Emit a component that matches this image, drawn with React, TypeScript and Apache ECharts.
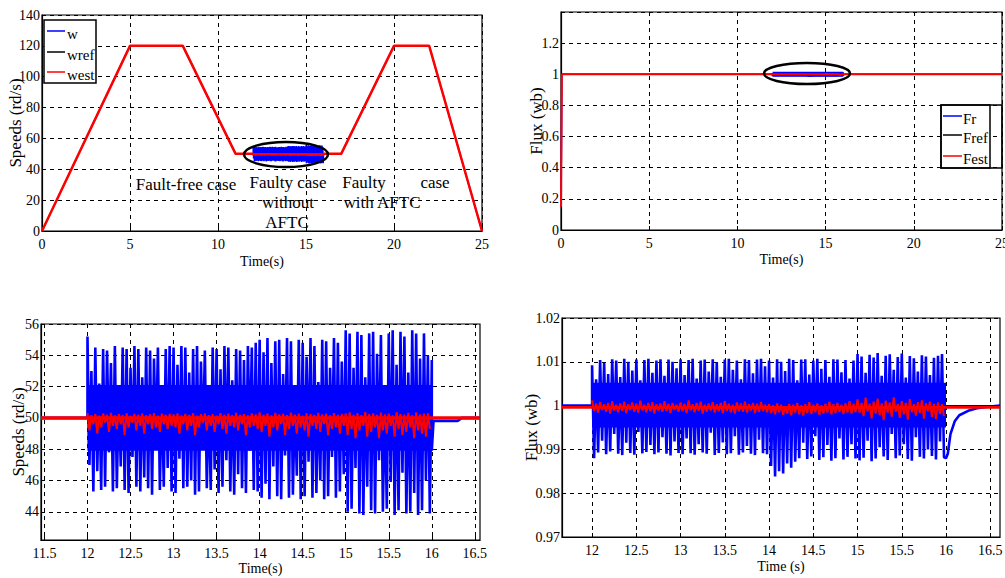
import React, { useEffect, useRef } from "react";
import * as echarts from "echarts";

// ---------------- data ----------------
const profileTime = [0, 5, 8, 11, 17, 20, 22, 25];
const profileSpeed = [0, 120, 120, 50, 50, 120, 120, 0];
const plateauSpeed = 50;
const faultStart = 12;
const faultEnd = 16;

// rotor speed w : spike tips during the fault (12 s .. 16 s)
const wHigh = [
  55.2, 53.0, 54.5, 52.2, 54.4, 54.3, 53.5, 54.6, 51.8, 54.5, 54.4, 53.2, 54.6, 54.4, 52.6, 54.5, 54.3, 53.8, 54.5, 52.0, 54.4, 54.6,
  54.5, 53.4, 54.6, 54.5, 52.9, 54.4, 54.6, 53.6, 54.3, 51.6, 54.5, 54.4, 53.1, 54.6, 54.5, 52.4, 54.4, 54.3, 53.7, 54.6, 54.5, 54.8,
  55.0, 54.2, 55.1, 53.5, 54.9, 55.0, 52.8, 55.1, 54.9, 51.2, 55.0, 54.8, 53.9, 55.1, 54.6, 52.3, 55.0, 54.9, 53.2, 55.1, 54.8, 53.6,
  55.6, 55.4, 53.2, 55.5, 55.3, 52.6, 55.4, 55.5, 54.1, 55.3, 51.5, 55.4, 55.6, 53.4, 55.5, 55.2, 52.9, 55.6, 55.4, 53.8, 55.4, 54.0,
];
const wLow = [
  47.0, 45.3, 46.6, 45.4, 45.6, 47.8, 45.3, 45.5, 46.9, 45.4, 45.2, 47.5, 45.6, 45.3, 46.2, 45.5, 45.1, 48.0, 45.4, 45.6, 46.8, 45.3,
  45.2, 47.4, 45.5, 45.6, 46.0, 45.1, 45.3, 48.2, 45.5, 45.4, 46.7, 45.2, 45.6, 47.3, 45.3, 45.1, 46.4, 45.5, 45.2, 47.9, 45.4, 45.3,
  44.9, 45.8, 44.8, 46.9, 45.0, 44.8, 47.6, 44.9, 45.1, 46.3, 44.8, 45.0, 47.2, 44.9, 45.2, 46.0, 44.8, 45.0, 47.5, 44.9, 45.3, 46.4,
  44.0, 44.2, 46.8, 43.9, 43.8, 45.6, 44.1, 43.9, 47.3, 44.0, 44.2, 45.9, 43.8, 44.1, 46.5, 43.9, 44.0, 45.2, 43.8, 44.1, 46.0, 43.9,
];
const wBand = [47.9, 52.1];
const wRecoveryTime = [16, 16, 16.02, 16.3, 16.35, 16.56];
const wRecoveryValue = [53.7, 47.9, 49.8, 49.8, 50, 50];

// estimated speed west during the fault
const westHigh = [
  50.30, 50.18, 50.25, 50.15, 50.28, 50.20, 50.32, 50.16, 50.24, 50.19, 50.30, 50.14, 50.26, 50.21, 50.29, 50.17, 50.23, 50.31, 50.15, 50.27, 50.20, 50.25,
  50.22, 50.29, 50.16, 50.26, 50.19, 50.31, 50.15, 50.24, 50.28, 50.18, 50.25, 50.14, 50.30, 50.21, 50.27, 50.17, 50.33, 50.20, 50.24, 50.16, 50.29, 50.22,
  50.35, 50.20, 50.28, 50.16, 50.32, 50.22, 50.26, 50.18, 50.34, 50.21, 50.27, 50.15, 50.30, 50.24, 50.19, 50.33, 50.22, 50.27, 50.17, 50.31, 50.20, 50.25,
  50.28, 50.36, 50.20, 50.30, 50.17, 50.38, 50.24, 50.29, 50.19, 50.34, 50.22, 50.27, 50.16, 50.37, 50.25, 50.21, 50.32, 50.18, 50.35, 50.23, 50.28, 50.30,
];
const westLow = [
  49.2, 49.6, 49.0, 49.4, 49.7, 49.1, 49.5, 49.3, 49.6, 48.9, 49.4, 49.7, 49.2, 49.5, 49.0, 49.6, 49.3, 49.4, 49.1, 49.6, 49.3, 49.5,
  49.4, 49.0, 49.6, 49.2, 49.5, 48.9, 49.4, 49.7, 49.2, 49.5, 49.1, 49.6, 49.3, 49.0, 49.5, 49.4, 49.2, 49.6, 48.9, 49.4, 49.5, 49.3,
  49.1, 49.5, 48.8, 49.4, 49.2, 49.6, 48.9, 49.3, 49.5, 49.0, 49.4, 49.2, 48.8, 49.5, 49.3, 49.1, 49.6, 48.9, 49.3, 49.4, 49.0, 49.5,
  48.9, 49.3, 48.7, 49.2, 49.5, 48.8, 49.1, 49.4, 48.7, 49.2, 49.0, 49.5, 48.8, 49.3, 48.9, 49.1, 49.4, 48.7, 49.2, 49.0, 48.8, 49.3,
];

// flux
const fluxRef = 1;
const fluxStartTime = [0, 0.05];
const fluxStartValue = [0.15, 1];
const festBase = 0.9996;
const frHigh = [
  1.0092, 1.0060, 1.0104, 1.0098, 1.0072, 1.0106, 1.0103, 1.0065, 1.0107, 1.0100, 1.0080, 1.0105, 1.0058, 1.0104, 1.0107, 1.0075, 1.0103, 1.0106, 1.0068, 1.0105, 1.0100, 1.0085,
  1.0106, 1.0070, 1.0104, 1.0107, 1.0062, 1.0103, 1.0105, 1.0078, 1.0106, 1.0099, 1.0066, 1.0105, 1.0107, 1.0082, 1.0103, 1.0060, 1.0106, 1.0104, 1.0074, 1.0105, 1.0107, 1.0090,
  1.0103, 1.0064, 1.0106, 1.0100, 1.0079, 1.0107, 1.0104, 1.0058, 1.0105, 1.0106, 1.0071, 1.0103, 1.0107, 1.0084, 1.0104, 1.0066, 1.0106, 1.0105, 1.0076, 1.0104, 1.0062, 1.0103,
  1.0118, 1.0112, 1.0075, 1.0116, 1.0110, 1.0120, 1.0068, 1.0114, 1.0117, 1.0082, 1.0111, 1.0119, 1.0064, 1.0113, 1.0108, 1.0078, 1.0115, 1.0112, 1.0070, 1.0109, 1.0114, 1.0118,
];
const frLow = [
  0.9880, 0.9893, 0.9920, 0.9889, 0.9895, 0.9935, 0.9890, 0.9887, 0.9915, 0.9892, 0.9888, 0.9940, 0.9891, 0.9894, 0.9910, 0.9889, 0.9893, 0.9928, 0.9890, 0.9886, 0.9918, 0.9892,
  0.9889, 0.9925, 0.9891, 0.9888, 0.9912, 0.9893, 0.9890, 0.9938, 0.9887, 0.9892, 0.9916, 0.9889, 0.9891, 0.9930, 0.9888, 0.9893, 0.9908, 0.9890, 0.9887, 0.9922, 0.9891, 0.9889,
  0.9862, 0.9838, 0.9850, 0.9845, 0.9868, 0.9858, 0.9872, 0.9880, 0.9915, 0.9878, 0.9884, 0.9930, 0.9876, 0.9882, 0.9910, 0.9874, 0.9880, 0.9925, 0.9877, 0.9883, 0.9912, 0.9879,
  0.9875, 0.9881, 0.9920, 0.9873, 0.9879, 0.9905, 0.9884, 0.9876, 0.9935, 0.9880, 0.9886, 0.9912, 0.9878, 0.9874, 0.9928, 0.9883, 0.9879, 0.9900, 0.9885, 0.9877, 0.9918, 0.9882,
];
const frBand = [0.9950, 1.0052];
const frRecoveryTime = [16, 16.02, 16.05, 16.1, 16.15, 16.25, 16.35, 16.5, 16.61];
const frRecoveryValue = [0.988, 0.989, 0.9935, 0.9965, 0.9978, 0.9988, 0.9994, 0.9998, 1.0];
const festHigh = [
  1.0012, 1.0004, 1.0008, 1.0003, 1.0006, 1.0010, 1.0002, 1.0005, 1.0009, 1.0003, 1.0007, 1.0004, 1.0011, 1.0002, 1.0006, 1.0008, 1.0003, 1.0005, 1.0010, 1.0004, 1.0006, 1.0002,
  1.0007, 1.0004, 1.0012, 1.0003, 1.0006, 1.0009, 1.0002, 1.0005, 1.0008, 1.0003, 1.0006, 1.0010, 1.0004, 1.0002, 1.0007, 1.0005, 1.0009, 1.0003, 1.0006, 1.0004, 1.0008, 1.0002,
  1.0003, 1.0001, 1.0005, 1.0002, 0.9999, 1.0004, 1.0002, 1.0006, 1.0001, 1.0003, 1.0008, 1.0002, 1.0005, 1.0001, 1.0004, 1.0009, 1.0003, 1.0006, 1.0002, 1.0005, 1.0010, 1.0004,
  1.0014, 1.0006, 1.0018, 1.0004, 1.0009, 1.0016, 1.0005, 1.0011, 1.0007, 1.0019, 1.0004, 1.0010, 1.0006, 1.0015, 1.0003, 1.0008, 1.0012, 1.0005, 1.0009, 1.0004, 1.0007, 1.0003,
];
const festLow = [
  0.9988, 0.9984, 0.9990, 0.9986, 0.9982, 0.9989, 0.9985, 0.9988, 0.9983, 0.9990, 0.9986, 0.9984, 0.9989, 0.9985, 0.9987, 0.9982, 0.9989, 0.9986, 0.9988, 0.9983, 0.9990, 0.9986,
  0.9987, 0.9983, 0.9989, 0.9985, 0.9988, 0.9982, 0.9986, 0.9989, 0.9984, 0.9987, 0.9983, 0.9988, 0.9985, 0.9982, 0.9987, 0.9986, 0.9984, 0.9989, 0.9983, 0.9986, 0.9988, 0.9985,
  0.9983, 0.9980, 0.9985, 0.9979, 0.9982, 0.9978, 0.9984, 0.9980, 0.9977, 0.9983, 0.9981, 0.9985, 0.9979, 0.9982, 0.9984, 0.9980, 0.9983, 0.9986, 0.9981, 0.9984, 0.9982, 0.9985,
  0.9984, 0.9976, 0.9987, 0.9971, 0.9982, 0.9978, 0.9967, 0.9984, 0.9975, 0.9986, 0.9972, 0.9980, 0.9968, 0.9985, 0.9977, 0.9983, 0.9970, 0.9987, 0.9974, 0.9969, 0.9981, 0.9976,
];

// axis ticks
const speedZoomTimeTicks = [11.5, 12, 12.5, 13, 13.5, 14, 14.5, 15, 15.5, 16, 16.5];
const fluxZoomTimeTicks = [12, 12.5, 13, 13.5, 14, 14.5, 15, 15.5, 16, 16.5];
const speedZoomTicks = [44, 46, 48, 50, 52, 54, 56];

// --------------- helpers ---------------
const FONT = "Liberation Serif";

function zigzag(hi: number[], lo: number[]) {
  const n = Math.min(hi.length, lo.length);
  const dt = (faultEnd - faultStart) / n;
  const pts: number[][] = [];
  for (let i = 0; i < n; i++) {
    pts.push([faultStart + i * dt, hi[i]]);
    pts.push([faultStart + (i + 0.5) * dt, lo[i]]);
  }
  return pts;
}
const pairs = (t: number[], v: number[]) => t.map((x, i) => [x, v[i]]);

const gridLine = { show: true, lineStyle: { color: "#000", type: [4, 4] as any, width: 1 } };
const axisLineStyle = { show: true, onZero: false, lineStyle: { color: "#000", width: 1.2 } };
const richLabel = { t: { fontFamily: FONT, fontSize: 14, color: "#000" } };
const wrap = (s: string) => (s === "" ? "" : `{t|${s}}`);

function xAxisCfg(gridIndex: number, min: number, max: number, extra: any, name: string, nameGap: number) {
  return {
    type: "value",
    gridIndex,
    min,
    max,
    axisLine: axisLineStyle,
    axisTick: { show: true, inside: true, length: 4, lineStyle: { color: "#000" }, ...(extra.tick || {}) },
    axisLabel: {
      color: "#000",
      fontFamily: FONT,
      fontSize: 14,
      margin: 6,
      formatter: (v: number) => wrap(String(v)),
      rich: richLabel,
      ...(extra.label || {}),
    },
    splitLine: gridLine,
    interval: extra.interval,
    name,
    nameLocation: "middle",
    nameGap,
    nameMoveOverlap: false,
    nameTextStyle: { color: "#000", fontFamily: FONT, fontSize: 14 },
  };
}
function yAxisCfg(gridIndex: number, min: number, max: number, extra: any, name: string, nameGap: number) {
  return {
    type: "value",
    gridIndex,
    min,
    max,
    axisLine: axisLineStyle,
    axisTick: { show: true, inside: true, length: 4, lineStyle: { color: "#000" }, ...(extra.tick || {}) },
    axisLabel: {
      color: "#000",
      fontFamily: FONT,
      fontSize: 14,
      margin: 2,
      formatter: (v: number) => wrap(String(v)),
      rich: richLabel,
      ...(extra.label || {}),
    },
    splitLine: gridLine,
    interval: extra.interval,
    name,
    nameLocation: "middle",
    nameGap,
    nameRotate: 90,
    nameMoveOverlap: false,
    nameTextStyle: { color: "#000", fontFamily: FONT, fontSize: 17 },
  };
}
function line(xi: number, data: number[][], color: string, width: number, z = 2, extra: any = {}) {
  return {
    type: "line",
    xAxisIndex: xi,
    yAxisIndex: xi,
    data,
    symbol: "none",
    showSymbol: false,
    silent: true,
    z,
    lineStyle: { color, width },
    ...extra,
  };
}
function legendBox(x: number, y: number, w: number, h: number, names: string[], ys: number[], lx1: number, lx2: number, tx: number) {
  const colors = ["#0000ff", "#000000", "#ff0000"];
  const els: any[] = [
    { type: "rect", shape: { x, y, width: w, height: h }, style: { fill: "#fff", stroke: "#000", lineWidth: 1.5 }, z: 100 },
  ];
  names.forEach((n, i) => {
    els.push({ type: "line", shape: { x1: lx1, y1: ys[i], x2: lx2, y2: ys[i] }, style: { stroke: colors[i], lineWidth: 1.5 }, z: 101 });
    els.push({ type: "text", x: tx, y: ys[i] + 3, style: { text: n, fill: "#000", font: `15px ${FONT}`, align: "left", verticalAlign: "middle" }, z: 101 });
  });
  return els;
}
function label(text: string, x: number, y: number) {
  return { type: "text", x, y, style: { text, fill: "#000", font: `17px ${FONT}`, align: "center", verticalAlign: "middle" }, z: 50 };
}

export default function App() {
  const ref = useRef<HTMLDivElement>(null);
  useEffect(() => {
    if (!ref.current) return;
    const chart = echarts.init(ref.current, undefined, { renderer: "svg" });

    const profilePts = pairs(profileTime, profileSpeed);
    const before = profilePts.filter((p) => p[0] <= 11);
    const after = profilePts.filter((p) => p[0] >= 17);
    const wTop = [...before, [faultStart, plateauSpeed], ...zigzag(wHigh, wLow), [faultEnd, plateauSpeed], ...after];
    const westTop = [...before, [faultStart, plateauSpeed], ...zigzag(westHigh, westLow), [faultEnd, plateauSpeed], ...after];

    const fluxStart = pairs(fluxStartTime, fluxStartValue);
    const frTopBase = [...fluxStart, [25, fluxRef]];
    const frTopFault = zigzag(frHigh, frLow);
    const frTopEnvelope = [[faultStart, fluxRef], [faultEnd, fluxRef]];
    const festTop = [...fluxStart, [faultStart, fluxRef], ...zigzag(festHigh, festLow), [faultEnd, fluxRef], [25, fluxRef]];

    const wZoom = [[11.46, plateauSpeed], [faultStart, plateauSpeed], ...zigzag(wHigh, wLow), ...pairs(wRecoveryTime, wRecoveryValue)];
    const frZoom = [[11.66, fluxRef], [faultStart, fluxRef], ...zigzag(frHigh, frLow), ...pairs(frRecoveryTime, frRecoveryValue)];

    const option: any = {
      animation: false,
      textStyle: { fontFamily: FONT },
      grid: [
        { left: 42, top: 15, width: 440, height: 216, show: true, borderColor: "#000", borderWidth: 1.2, outerBoundsMode: "none" },
        { left: 561, top: 12, width: 441, height: 218, show: true, borderColor: "#000", borderWidth: 1.2, outerBoundsMode: "none" },
        { left: 41, top: 324, width: 439, height: 216, show: true, borderColor: "#000", borderWidth: 1.2, outerBoundsMode: "none" },
        { left: 562, top: 318, width: 438, height: 219, show: true, borderColor: "#000", borderWidth: 1.2, outerBoundsMode: "none" },
      ],
      xAxis: [
        xAxisCfg(0, 0, 25, { interval: 5 }, "Time(s)", 23),
        xAxisCfg(1, 0, 25, { interval: 5 }, "Time(s)", 22),
        xAxisCfg(2, 11.46, 16.56, { label: { customValues: speedZoomTimeTicks }, tick: { customValues: speedZoomTimeTicks } }, "Time(s)", 21),
        xAxisCfg(3, 11.66, 16.61, { label: { customValues: fluxZoomTimeTicks }, tick: { customValues: fluxZoomTimeTicks } }, "Time (s)", 22),
      ],
      yAxis: [
        yAxisCfg(0, 0, 140, { interval: 20 }, "Speeds (rd/s)", 18),
        yAxisCfg(1, 0, 1.4, { interval: 0.2, label: { formatter: (v: number) => (v > 1.3 ? "" : wrap(String(+v.toFixed(1)))) } }, "Flux (wb)", 16),
        yAxisCfg(2, 42.2, 56, { label: { customValues: speedZoomTicks }, tick: { customValues: speedZoomTicks } }, "Speeds (rd/s)", 14),
        yAxisCfg(3, 0.97, 1.02, { interval: 0.01, label: { formatter: (v: number) => wrap(String(+v.toFixed(2))) } }, "Flux (wb)", 22),
      ],
      series: [
        // top-left
        line(0, wTop, "#0000ff", 1.5, 2),
        line(0, profilePts, "#000000", 1, 3),
        line(0, westTop, "#ff0000", 2.5, 4),
        // top-right
        line(1, frTopBase, "#0000ff", 1.5, 2),
        line(1, frTopFault, "#0000ff", 3, 2),
        line(1, frTopEnvelope, "#0000ff", 5, 2),
        line(1, [[0, fluxRef], [25, fluxRef]], "#000000", 1, 3),
        line(1, festTop, "#ff0000", 2, 4),
        // bottom-left
        line(2, wZoom, "#0000ff", 2.6, 2, {
          markArea: {
            silent: true,
            z: 1,
            itemStyle: { color: "#0000ff", opacity: 1 },
            data: [[{ coord: [faultStart, wBand[0]] }, { coord: [faultEnd, wBand[1]] }]],
          },
        }),
        line(2, [[11.46, plateauSpeed], [16.56, plateauSpeed]], "#000000", 1, 3),
        line(2, [[11.46, plateauSpeed], [16.56, plateauSpeed]], "#ff0000", 3.5, 4),
        line(2, zigzag(westHigh, westLow), "#ff0000", 2, 5),
        // bottom-right
        line(3, frZoom, "#0000ff", 2.6, 2, {
          markArea: {
            silent: true,
            z: 1,
            itemStyle: { color: "#0000ff", opacity: 1 },
            data: [[{ coord: [faultStart, frBand[0]] }, { coord: [faultEnd, frBand[1]] }]],
          },
        }),
        line(3, [[11.66, fluxRef], [16.61, fluxRef]], "#000000", 1.3, 3),
        line(3, [[11.66, festBase], [16.61, festBase]], "#ff0000", 3, 4),
        line(3, zigzag(festHigh, festLow), "#ff0000", 2, 5),
      ],
      graphic: [
        ...legendBox(44, 20, 52, 63, ["w", "wref", "west"], [31, 52, 72], 47, 65, 67),
        ...legendBox(941, 105, 49, 63, ["Fr", "Fref", "Fest"], [116, 135, 156], 943, 962, 963),
        { type: "rect", shape: { x: 941, y: 105, width: 61, height: 63 }, style: { fill: "none", stroke: "#000", lineWidth: 1.5 }, z: 100 },
        { type: "ellipse", shape: { cx: 286, cy: 154.5, rx: 42, ry: 12.5 }, style: { fill: "none", stroke: "#000", lineWidth: 2.5 }, z: 60 },
        { type: "ellipse", shape: { cx: 807, cy: 73.5, rx: 43, ry: 10.5 }, style: { fill: "none", stroke: "#000", lineWidth: 2.5 }, z: 60 },
        label("Fault-free case", 186, 184),
        label("Faulty case", 288, 182),
        label("without", 288, 202),
        label("AFTC", 287, 222),
        label("Faulty", 364, 182),
        label("case", 435, 182),
        label("with AFTC", 382, 202),
      ],
    };
    chart.setOption(option);
    return () => chart.dispose();
  }, []);
  return <div ref={ref} style={{ position: "absolute", left: 0, top: 0, width: 1005, height: 578, background: "#fff" }} />;
}
